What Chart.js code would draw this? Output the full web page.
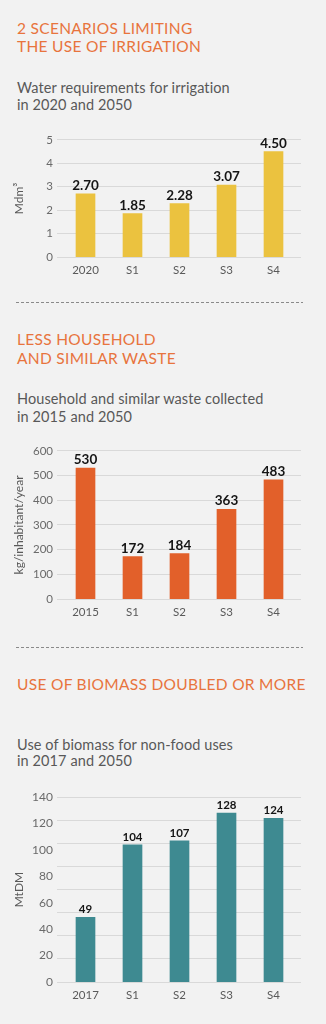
<!DOCTYPE html>
<html>
<head>
<meta charset="utf-8">
<script src="https://cdn.jsdelivr.net/npm/chart.js@4.4.0/dist/chart.umd.min.js"></script>
<style>
  html,body{margin:0;padding:0;background:#f2f2f2;}
  body{width:326px;height:1024px;position:relative;overflow:hidden;font-family:Lato,"Open Sans",sans-serif;}
  .h{position:absolute;left:17px;color:#e8743d;font-size:15.5px;line-height:18px;white-space:nowrap;letter-spacing:0.3px;}
  .s{position:absolute;left:17px;color:#585858;font-size:14.5px;line-height:17px;white-space:nowrap;letter-spacing:0.1px;}
  .sep{position:absolute;left:16px;width:287px;height:1px;background:repeating-linear-gradient(to right,#8a8a8a 0 3px,transparent 3px 5px);}
  canvas{position:absolute;left:0;}
</style>
</head>
<body>
<div class="h" style="top:19px">2 SCENARIOS LIMITING<br>THE USE OF IRRIGATION</div>
<div class="s" style="top:79px">Water requirements for irrigation<br>in 2020 and 2050</div>
<canvas id="c1" width="326" height="159" style="top:124px"></canvas>

<div class="sep" style="top:302px"></div>
<div class="h" style="top:330px;line-height:19px">LESS HOUSEHOLD<br>AND SIMILAR WASTE</div>
<div class="s" style="top:390px;line-height:18px">Household and similar waste collected<br>in 2015 and 2050</div>
<canvas id="c2" width="326" height="190" style="top:435px"></canvas>

<div class="sep" style="top:647px"></div>
<div class="h" style="top:675px">USE OF BIOMASS DOUBLED OR MORE</div>
<div class="s" style="top:737px;line-height:16px">Use of biomass for non-food uses<br>in 2017 and 2050</div>
<canvas id="c3" width="326" height="227" style="top:781px"></canvas>

<script>
// ---- data ----
const cats1 = ['2020', 'S1', 'S2', 'S3', 'S4'];
const water = [2.70, 1.85, 2.28, 3.07, 4.50];
const waterLabels = ['2.70', '1.85', '2.28', '3.07', '4.50'];
const waterAxis = { min: 0, max: 5, step: 1, gridStep: 1, title: 'Mdm³' };

const cats2 = ['2015', 'S1', 'S2', 'S3', 'S4'];
const waste = [530, 172, 184, 363, 483];
const wasteLabels = ['530', '172', '184', '363', '483'];
const wasteAxis = { min: 0, max: 600, step: 100, gridStep: 100, title: 'kg/inhabitant/year' };

const cats3 = ['2017', 'S1', 'S2', 'S3', 'S4'];
const biomass = [49, 104, 107, 128, 124];
const biomassLabels = ['49', '104', '107', '128', '124'];
const biomassAxis = { min: 0, max: 140, step: 20, gridStep: 17.5, title: 'MtDM' };

Chart.defaults.font.family = 'Lato, "Open Sans", sans-serif';

const valueLabels = {
  id: 'valueLabels',
  afterDatasetsDraw(chart, args, opts) {
    const ctx = chart.ctx;
    const meta = chart.getDatasetMeta(0);
    ctx.save();
    ctx.fillStyle = '#151515';
    ctx.font = 'bold ' + opts.size + 'px Lato, "Open Sans", sans-serif';
    ctx.textAlign = 'center';
    ctx.textBaseline = 'alphabetic';
    meta.data.forEach((bar, i) => {
      ctx.fillText(opts.labels[i], bar.x, bar.y - 4);
    });
    ctx.restore();
  }
};

function makeChart(id, cats, vals, labels, ax, color, labelSize, tickSize) {
  const gridColor = '#d9d9d9';
  return new Chart(document.getElementById(id), {
    type: 'bar',
    data: {
      labels: cats,
      datasets: [{ data: vals, backgroundColor: color, barThickness: 19, borderWidth: 0 }]
    },
    options: {
      responsive: false,
      animation: false,
      events: [],
      layout: { padding: { left: 8, right: 0, top: 12, bottom: 0 } },
      plugins: {
        legend: { display: false },
        tooltip: { enabled: false },
        valueLabels: { labels: labels, size: labelSize }
      },
      scales: {
        x: {
          grid: { display: false, drawTicks: false },
          border: { display: false },
          ticks: { color: '#5a5a5a', font: { size: 11.5 }, padding: 6 },
          afterFit(s) { s.height = 26; }
        },
        y: {
          position: 'left', weight: 1,
          min: ax.min, max: ax.max,
          grid: { display: false, drawTicks: false },
          border: { display: false },
          ticks: { stepSize: ax.step, color: '#6a6a6a', font: { size: tickSize }, padding: 9 },
          title: { display: true, text: ax.title, color: '#5a5a5a', font: { size: 12 }, padding: { top: 4, bottom: 0 } },
          afterFit(s) { s.width = 54; }
        },
        g: {
          position: 'left', weight: 0,
          min: ax.min, max: ax.max,
          grid: { color: gridColor, lineWidth: 1, drawTicks: true, tickLength: 5 },
          border: { display: false },
          ticks: { display: false, stepSize: ax.gridStep },
          afterFit(s) { s.width = 0; }
        },
        gr: {
          position: 'right',
          min: ax.min, max: ax.max,
          grid: { color: gridColor, lineWidth: 1, drawOnChartArea: false, drawTicks: true, tickLength: 4 },
          border: { display: false },
          ticks: { display: false, stepSize: ax.gridStep },
          afterFit(s) { s.width = 29; }
        }
      }
    },
    plugins: [valueLabels]
  });
}

makeChart('c1', cats1, water, waterLabels, waterAxis, '#ebc23f', 13.5, 11.5);
makeChart('c2', cats2, waste, wasteLabels, wasteAxis, '#e2602a', 13.5, 11.5);
makeChart('c3', cats3, biomass, biomassLabels, biomassAxis, '#3e8a91', 11.5, 12);
</script>
</body>
</html>
